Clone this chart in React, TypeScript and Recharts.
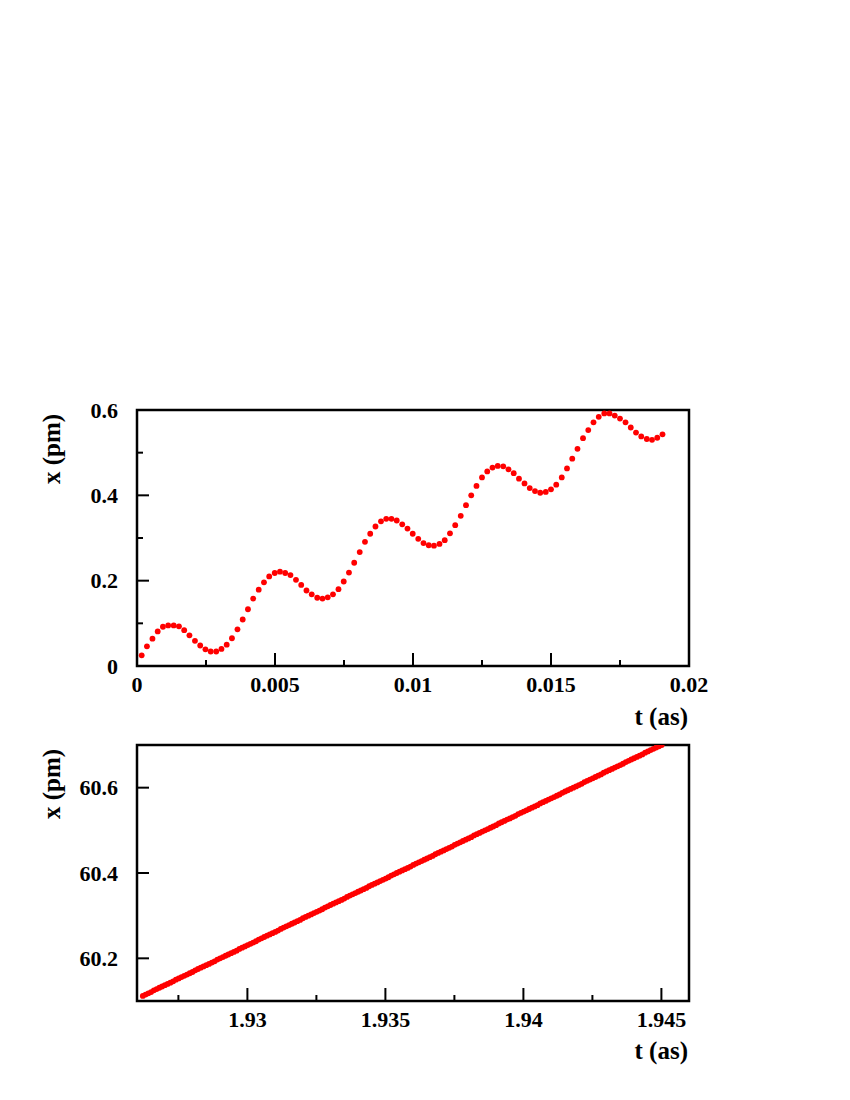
import { ScatterChart, Scatter, XAxis, YAxis, ReferenceArea, Label } from 'recharts';

// top panel: t (as) and x (pm)
const topTime = [
  0.00017, 0.00036, 0.00056, 0.00075, 0.00094, 0.00113, 0.00133, 0.00152, 0.00171, 0.0019,
  0.0021, 0.00229, 0.00248, 0.00267, 0.00287, 0.00306, 0.00325, 0.00344, 0.00364, 0.00383,
  0.00402, 0.00421, 0.00441, 0.0046, 0.00479, 0.00499, 0.00518, 0.00537, 0.00556, 0.00576,
  0.00595, 0.00614, 0.00633, 0.00653, 0.00672, 0.00691, 0.0071, 0.0073, 0.00749, 0.00768,
  0.00787, 0.00807, 0.00826, 0.00845, 0.00864, 0.00884, 0.00903, 0.00922, 0.00941, 0.00961,
  0.0098, 0.00999, 0.01019, 0.01038, 0.01057, 0.01076, 0.01096, 0.01115, 0.01134, 0.01153,
  0.01173, 0.01192, 0.01211, 0.0123, 0.0125, 0.01269, 0.01288, 0.01307, 0.01327, 0.01346,
  0.01365, 0.01384, 0.01404, 0.01423, 0.01442, 0.01461, 0.01481, 0.015, 0.01519, 0.01539,
  0.01558, 0.01577, 0.01596, 0.01616, 0.01635, 0.01654, 0.01673, 0.01693, 0.01712, 0.01731,
  0.0175, 0.0177, 0.01789, 0.01808, 0.01827, 0.01847, 0.01866, 0.01885, 0.01904,
];
const topX = [
  0.025, 0.046, 0.064, 0.081, 0.092, 0.095, 0.095, 0.093, 0.084, 0.072,
  0.059, 0.048, 0.039, 0.034, 0.034, 0.04, 0.05, 0.065, 0.086, 0.109,
  0.133, 0.158, 0.179, 0.196, 0.21, 0.218, 0.221, 0.218, 0.213, 0.202,
  0.19, 0.177, 0.168, 0.16, 0.158, 0.161, 0.168, 0.18, 0.198, 0.219,
  0.242, 0.267, 0.291, 0.31, 0.327, 0.339, 0.345, 0.345, 0.341, 0.332,
  0.322, 0.31, 0.298, 0.288, 0.283, 0.282, 0.286, 0.295, 0.311, 0.33,
  0.352, 0.377, 0.4, 0.422, 0.442, 0.456, 0.465, 0.469, 0.468, 0.461,
  0.452, 0.439, 0.428, 0.417, 0.41, 0.406, 0.408, 0.414, 0.425, 0.442,
  0.463, 0.486, 0.509, 0.534, 0.553, 0.571, 0.584, 0.592, 0.592, 0.587,
  0.58, 0.571, 0.559, 0.547, 0.538, 0.532, 0.53, 0.535, 0.543,
];

// bottom panel
const bottomTime = [
  1.92621, 1.92631, 1.92641, 1.92651, 1.92661, 1.92671, 1.92681, 1.92691, 1.92701, 1.92711,
  1.92721, 1.92731, 1.92741, 1.92751, 1.92761, 1.92771, 1.92781, 1.92791, 1.92801, 1.92811,
  1.92821, 1.92831, 1.92841, 1.92851, 1.92861, 1.92871, 1.92881, 1.92891, 1.92901, 1.92911,
  1.92921, 1.92931, 1.92941, 1.92951, 1.92961, 1.92971, 1.92981, 1.92991, 1.93001, 1.93011,
  1.93021, 1.93031, 1.93041, 1.93051, 1.93061, 1.93071, 1.93081, 1.93091, 1.93101, 1.93111,
  1.93121, 1.93131, 1.93141, 1.93151, 1.93161, 1.93171, 1.93181, 1.93191, 1.93201, 1.93211,
  1.93221, 1.93231, 1.93241, 1.93251, 1.93261, 1.93271, 1.93281, 1.93291, 1.93301, 1.93311,
  1.93321, 1.93331, 1.93341, 1.93351, 1.93361, 1.93371, 1.93381, 1.93391, 1.93401, 1.93411,
  1.93421, 1.93431, 1.93441, 1.93451, 1.93461, 1.93471, 1.93481, 1.93491, 1.93501, 1.93511,
  1.93521, 1.93531, 1.93541, 1.93551, 1.93561, 1.93571, 1.93581, 1.93591, 1.93601, 1.93611,
  1.93621, 1.93631, 1.93641, 1.93651, 1.93661, 1.93671, 1.93681, 1.93691, 1.93701, 1.93711,
  1.93721, 1.93731, 1.93741, 1.93751, 1.93761, 1.93771, 1.93781, 1.93791, 1.93801, 1.93811,
  1.93821, 1.93831, 1.93841, 1.93851, 1.93861, 1.93871, 1.93881, 1.93891, 1.93901, 1.93911,
  1.93921, 1.93931, 1.93941, 1.93951, 1.93961, 1.93971, 1.93981, 1.93991, 1.94001, 1.94011,
  1.94021, 1.94031, 1.94041, 1.94051, 1.94061, 1.94071, 1.94081, 1.94091, 1.94101, 1.94111,
  1.94121, 1.94131, 1.94141, 1.94151, 1.94161, 1.94171, 1.94181, 1.94191, 1.94201, 1.94211,
  1.94221, 1.94231, 1.94241, 1.94251, 1.94261, 1.94271, 1.94281, 1.94291, 1.94301, 1.94311,
  1.94321, 1.94331, 1.94341, 1.94351, 1.94361, 1.94371, 1.94381, 1.94391, 1.94401, 1.94411,
  1.94421, 1.94431, 1.94441, 1.94451, 1.94461, 1.94471, 1.94481, 1.94491, 1.94501,
];
const bottomX = [
  60.112, 60.115, 60.118, 60.121, 60.125, 60.128, 60.131, 60.134, 60.137, 60.14,
  60.143, 60.146, 60.15, 60.153, 60.156, 60.159, 60.162, 60.165, 60.168, 60.172,
  60.175, 60.178, 60.181, 60.184, 60.187, 60.19, 60.193, 60.197, 60.2, 60.203,
  60.206, 60.209, 60.212, 60.215, 60.218, 60.222, 60.225, 60.228, 60.231, 60.234,
  60.237, 60.24, 60.244, 60.247, 60.25, 60.253, 60.256, 60.259, 60.262, 60.265,
  60.269, 60.272, 60.275, 60.278, 60.281, 60.284, 60.287, 60.29, 60.294, 60.297,
  60.3, 60.303, 60.306, 60.309, 60.312, 60.315, 60.319, 60.322, 60.325, 60.328,
  60.331, 60.334, 60.337, 60.34, 60.344, 60.347, 60.35, 60.353, 60.356, 60.359,
  60.362, 60.365, 60.369, 60.372, 60.375, 60.378, 60.381, 60.384, 60.387, 60.39,
  60.394, 60.397, 60.4, 60.403, 60.406, 60.409, 60.412, 60.415, 60.419, 60.422,
  60.425, 60.428, 60.431, 60.434, 60.437, 60.44, 60.444, 60.447, 60.45, 60.453,
  60.456, 60.459, 60.462, 60.466, 60.469, 60.472, 60.475, 60.478, 60.481, 60.484,
  60.488, 60.491, 60.494, 60.497, 60.5, 60.503, 60.506, 60.509, 60.512, 60.516,
  60.519, 60.522, 60.525, 60.528, 60.531, 60.534, 60.538, 60.541, 60.544, 60.547,
  60.55, 60.553, 60.556, 60.559, 60.563, 60.566, 60.569, 60.572, 60.575, 60.578,
  60.581, 60.584, 60.588, 60.591, 60.594, 60.597, 60.6, 60.603, 60.606, 60.609,
  60.613, 60.616, 60.619, 60.622, 60.625, 60.628, 60.631, 60.635, 60.638, 60.641,
  60.644, 60.647, 60.65, 60.653, 60.656, 60.66, 60.663, 60.666, 60.669, 60.672,
  60.675, 60.678, 60.682, 60.685, 60.688, 60.691, 60.694, 60.697, 60.7,
];

// ticks
const topXMajor = [0, 0.005, 0.01, 0.015, 0.02];
const topXMinor = [0.0025, 0.0075, 0.0125, 0.0175];
const topYMajor = [0, 0.2, 0.4, 0.6];
const topYMinor = [0.1, 0.3, 0.5];
const bottomXMajor = [1.93, 1.935, 1.94, 1.945];
const bottomXMinor = [1.9275, 1.9325, 1.9375, 1.9425];
const bottomYMajor = [60.2, 60.4, 60.6];

const FONT = "'Times New Roman', 'Liberation Serif', 'DejaVu Serif', serif";
const RED = '#ff0000';

const topData = topTime.map((t, i) => ({ t, x: topX[i] }));
const bottomData = bottomTime.map((t, i) => ({ t, x: bottomX[i] }));

const dot = (props: any) => <circle cx={props.cx} cy={props.cy} r={2.9} fill={RED} />;

const xTick = (majors: number[]) => (props: any) => {
  const { x, y, payload } = props;
  const major = majors.includes(payload.value);
  return (
    <g>
      <line x1={x} y1={y} x2={x} y2={y - (major ? 13 : 6)} stroke="#000" strokeWidth={2} />
      {major && (
        <text x={x} y={y + 26} textAnchor="middle" style={{ fontFamily: FONT, fontWeight: 'bold', fontSize: 22 }} fill="#000">
          {String(payload.value)}
        </text>
      )}
    </g>
  );
};

const yTick = (majors: number[]) => (props: any) => {
  const { x, y, payload } = props;
  const major = majors.includes(payload.value);
  return (
    <g>
      <line x1={x} y1={y} x2={x + (major ? 12 : 6)} y2={y} stroke="#000" strokeWidth={2} />
      {major && (
        <text x={x - 19} y={y + 7.5} textAnchor="end" style={{ fontFamily: FONT, fontWeight: 'bold', fontSize: 22 }} fill="#000">
          {String(payload.value)}
        </text>
      )}
    </g>
  );
};

const xTitle = (baseline: number) => () => (
  <text x={688} y={baseline} textAnchor="end" style={{ fontFamily: FONT, fontWeight: 'bold', fontSize: 25 }} fill="#000">
    t (as)
  </text>
);

const yTitle = (cy: number) => () => (
  <text x={60} y={cy} transform={`rotate(-90, 60, ${cy})`} textAnchor="middle" style={{ fontFamily: FONT, fontWeight: 'bold', fontSize: 25 }} fill="#000">
    x (pm)
  </text>
);

export default function App() {
  return (
    <div style={{ width: 850, height: 1100, position: 'absolute', left: 0, top: 0, background: '#fff' }}>
      {/* top panel */}
      <div style={{ position: 'absolute', left: 0, top: 0 }}>
        <ScatterChart width={850} height={730} margin={{ top: 410, right: 161, bottom: 63, left: 136 }}>
          <XAxis
            type="number"
            dataKey="t"
            domain={[0, 0.02]}
            allowDataOverflow
            ticks={[...topXMajor, ...topXMinor]}
            interval={0}
            height={1}
            axisLine={false}
            tickLine={false}
            tickSize={0}
            tickMargin={0}
            tick={xTick(topXMajor)}
          >
            <Label content={xTitle(725)} />
          </XAxis>
          <YAxis
            type="number"
            dataKey="x"
            domain={[0, 0.6]}
            allowDataOverflow
            ticks={[...topYMajor, ...topYMinor]}
            interval={0}
            width={1}
            axisLine={false}
            tickLine={false}
            tickSize={0}
            tickMargin={0}
            tick={yTick(topYMajor)}
          >
            <Label content={yTitle(449)} />
          </YAxis>
          <ReferenceArea x1={0} x2={0.02} y1={0} y2={0.6} fill="none" stroke="#000" strokeWidth={2.5} fillOpacity={0} />
          <Scatter data={topData} shape={dot} isAnimationActive={false} />
        </ScatterChart>
      </div>

      {/* bottom panel */}
      <div style={{ position: 'absolute', left: 0, top: 720 }}>
        <ScatterChart width={850} height={380} margin={{ top: 25, right: 161, bottom: 98, left: 136 }}>
          <XAxis
            type="number"
            dataKey="t"
            domain={[1.926, 1.946]}
            allowDataOverflow
            ticks={[...bottomXMajor, ...bottomXMinor]}
            interval={0}
            height={1}
            axisLine={false}
            tickLine={false}
            tickSize={0}
            tickMargin={0}
            tick={xTick(bottomXMajor)}
          >
            <Label content={xTitle(339)} />
          </XAxis>
          <YAxis
            type="number"
            dataKey="x"
            domain={[60.1, 60.7]}
            allowDataOverflow
            ticks={bottomYMajor}
            interval={0}
            width={1}
            axisLine={false}
            tickLine={false}
            tickSize={0}
            tickMargin={0}
            tick={yTick(bottomYMajor)}
          >
            <Label content={yTitle(64)} />
          </YAxis>
          <ReferenceArea x1={1.926} x2={1.946} y1={60.1} y2={60.7} fill="none" stroke="#000" strokeWidth={2.5} fillOpacity={0} />
          <Scatter data={bottomData} shape={dot} isAnimationActive={false} />
        </ScatterChart>
      </div>
    </div>
  );
}
